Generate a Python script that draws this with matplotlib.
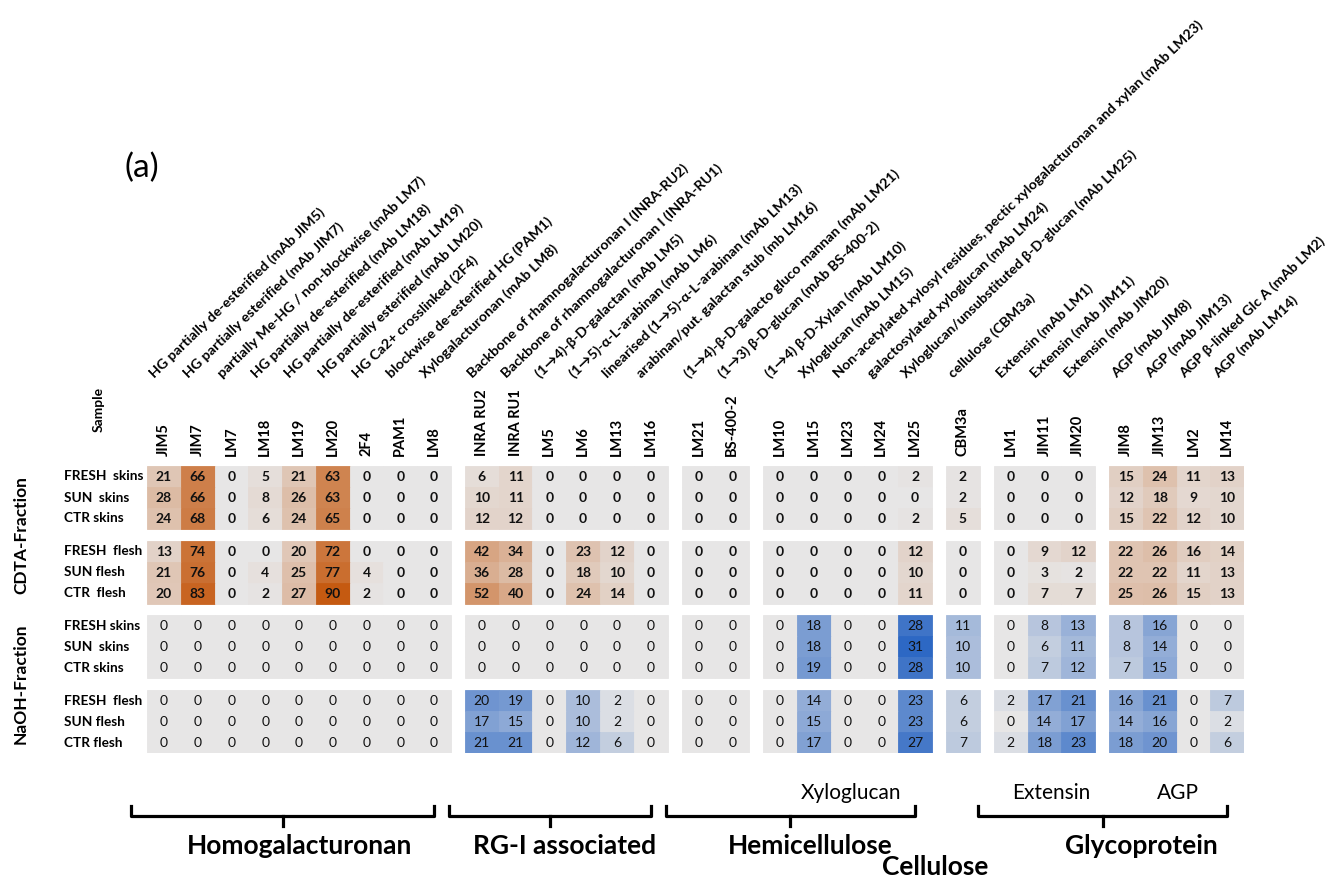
import numpy as np
import matplotlib
matplotlib.use("Agg")
import matplotlib.pyplot as plt
from matplotlib.colors import LinearSegmentedColormap, Normalize
from matplotlib.patches import Rectangle

plt.rcParams['font.family'] = ['Lato', 'DejaVu Sans']

# ------------------------------------------------------------------
# Data
# ------------------------------------------------------------------
antibodies = ["JIM5", "JIM7", "LM7", "LM18", "LM19", "LM20", "2F4", "PAM1", "LM8",
              "INRA RU2", "INRA RU1", "LM5", "LM6", "LM13", "LM16",
              "LM21", "BS-400-2",
              "LM10", "LM15", "LM23", "LM24", "LM25",
              "CBM3a",
              "LM1", "JIM11", "JIM20",
              "JIM8", "JIM13", "LM2", "LM14"]

descriptions = [
    "HG partially de-esterified (mAb JIM5)",
    "HG partially esterified (mAb JIM7)",
    "partially Me-HG / non-blockwise (mAb LM7)",
    "HG partially de-esterified (mAb LM18)",
    "HG partially de-esterified (mAb LM19)",
    "HG partially esterified (mAb LM20)",
    "HG Ca2+ crosslinked (2F4)",
    "blockwise de-esterified HG (PAM1)",
    "Xylogalacturonan (mAb LM8)",
    "Backbone of rhamnogalacturonan I (INRA-RU2)",
    "Backbone of rhamnogalacturonan I (INRA-RU1)",
    "(1\u21924)-\u03b2-D-galactan (mAb LM5)",
    "(1\u21925)-\u03b1-L-arabinan (mAb LM6)",
    "linearised (1\u21925)-\u03b1-L-arabinan (mAb LM13)",
    "arabinan/put. galactan stub (mb LM16)",
    "(1\u21924)-\u03b2-D-galacto gluco mannan (mAb LM21)",
    "(1\u21923) \u03b2-D-glucan (mAb BS-400-2)",
    "(1\u21924) \u03b2-D-Xylan (mAb LM10)",
    "Xyloglucan (mAb LM15)",
    "Non-acetylated xylosyl residues, pectic xylogalacturonan and xylan (mAb LM23)",
    "galactosylated xyloglucan (mAb LM24)",
    "Xyloglucan/unsubstituted \u03b2-D-glucan (mAb LM25)",
    "cellulose (CBM3a)",
    "Extensin (mAb LM1)",
    "Extensin (mAb JIM11)",
    "Extensin (mAb JIM20)",
    "AGP (mAb JIM8)",
    "AGP (mAb JIM13)",
    "AGP \u03b2-linked Glc A (mAb LM2)",
    "AGP (mAb LM14)",
]

group_sizes = [9, 6, 2, 5, 1, 3, 4]

cdta_samples = ["FRESH  skins", "SUN  skins", "CTR skins",
                "FRESH  flesh", "SUN flesh", "CTR  flesh"]
naoh_samples = ["FRESH skins", "SUN  skins", "CTR skins",
                "FRESH  flesh", "SUN flesh", "CTR flesh"]

cdta = np.array([
    [21, 66, 0, 5, 21, 63, 0, 0, 0,   6, 11, 0, 0, 0, 0,    0, 0,  0, 0, 0, 0, 2,   2,  0, 0, 0,   15, 24, 11, 13],
    [28, 66, 0, 8, 26, 63, 0, 0, 0,  10, 11, 0, 0, 0, 0,    0, 0,  0, 0, 0, 0, 0,   2,  0, 0, 0,   12, 18, 9, 10],
    [24, 68, 0, 6, 24, 65, 0, 0, 0,  12, 12, 0, 0, 0, 0,    0, 0,  0, 0, 0, 0, 2,   5,  0, 0, 0,   15, 22, 12, 10],
    [13, 74, 0, 0, 20, 72, 0, 0, 0,  42, 34, 0, 23, 12, 0,  0, 0,  0, 0, 0, 0, 12,  0,  0, 9, 12,  22, 26, 16, 14],
    [21, 76, 0, 4, 25, 77, 4, 0, 0,  36, 28, 0, 18, 10, 0,  0, 0,  0, 0, 0, 0, 10,  0,  0, 3, 2,   22, 22, 11, 13],
    [20, 83, 0, 2, 27, 90, 2, 0, 0,  52, 40, 0, 24, 14, 0,  0, 0,  0, 0, 0, 0, 11,  0,  0, 7, 7,   25, 26, 15, 13],
])

naoh = np.array([
    [0, 0, 0, 0, 0, 0, 0, 0, 0,   0, 0, 0, 0, 0, 0,     0, 0,  0, 18, 0, 0, 28,  11,  0, 8, 13,   8, 16, 0, 0],
    [0, 0, 0, 0, 0, 0, 0, 0, 0,   0, 0, 0, 0, 0, 0,     0, 0,  0, 18, 0, 0, 31,  10,  0, 6, 11,   8, 14, 0, 0],
    [0, 0, 0, 0, 0, 0, 0, 0, 0,   0, 0, 0, 0, 0, 0,     0, 0,  0, 19, 0, 0, 28,  10,  0, 7, 12,   7, 15, 0, 0],
    [0, 0, 0, 0, 0, 0, 0, 0, 0,  20, 19, 0, 10, 2, 0,   0, 0,  0, 14, 0, 0, 23,  6,   2, 17, 21, 16, 21, 0, 7],
    [0, 0, 0, 0, 0, 0, 0, 0, 0,  17, 15, 0, 10, 2, 0,   0, 0,  0, 15, 0, 0, 23,  6,   0, 14, 17, 14, 16, 0, 2],
    [0, 0, 0, 0, 0, 0, 0, 0, 0,  21, 21, 0, 12, 6, 0,   0, 0,  0, 17, 0, 0, 27,  7,   2, 18, 23, 18, 20, 0, 6],
])

# bracket groups: (name, first column, last column)
brackets = [("Homogalacturonan", 0, 8), ("RG-I associated", 9, 14),
            ("Hemicellulose", 15, 21), ("Glycoprotein", 23, 29)]

# ------------------------------------------------------------------
# Layout (pixels of the 1343x881 canvas)
# ------------------------------------------------------------------
W, H = 1343, 881
cell_w, cell_h = 33.77, 21.0
col_gap, row_gap = 0.415, 0.557
x0_px, y0_px = 147, 466

col_group = np.repeat(np.arange(len(group_sizes)), group_sizes)
col_left = np.arange(len(antibodies)) + col_gap * col_group
row_top = np.arange(12) + row_gap * (np.arange(12) // 3)
xmax = col_left[-1] + 1
ymax = row_top[-1] + 1

fig = plt.figure(figsize=(W / 100, H / 100), dpi=100)
ax = fig.add_axes([x0_px / W, 1 - (y0_px + ymax * cell_h) / H,
                   xmax * cell_w / W, ymax * cell_h / H])
ax.set_xlim(0, xmax)
ax.set_ylim(ymax, 0)
ax.axis("off")


def px(x):
    return (x - x0_px) / cell_w


def py(y):
    return (y - y0_px) / cell_h


gray = "#E7E6E6"
orange_map = LinearSegmentedColormap.from_list("or", [gray, "#C55A11"])
blue_map = LinearSegmentedColormap.from_list("bl", [gray, "#2D68C4"])

# ------------------------------------------------------------------
# Heatmap cells
# ------------------------------------------------------------------
for frac, (vals, cmap, weight) in enumerate([(cdta, orange_map, "bold"),
                                             (naoh, blue_map, "normal")]):
    norm = Normalize(0, vals.max())
    for r in range(vals.shape[0]):
        y = row_top[frac * 6 + r]
        for c in range(vals.shape[1]):
            v = vals[r, c]
            col = cmap(norm(v))
            ax.add_patch(Rectangle((col_left[c], y), 1, 1, facecolor=col,
                                   edgecolor=col, lw=0.6))
            ax.text(col_left[c] + 0.5, y + 0.52, str(v), ha="center",
                    va="center", fontsize=10, fontweight=weight,
                    color="#111111")

# row labels
for frac, names in enumerate([cdta_samples, naoh_samples]):
    for r, name in enumerate(names):
        ax.text(px(64), row_top[frac * 6 + r] + 0.5, name, ha="left",
                va="center", fontsize=9.8, fontweight="bold", clip_on=False)

ax.text(px(21), py(535), "CDTA-Fraction", rotation=90, ha="center",
        va="center", fontsize=12.5, fontweight="bold", clip_on=False)
ax.text(px(21), py(684), "NaOH-Fraction", rotation=90, ha="center",
        va="center", fontsize=12.5, fontweight="bold", clip_on=False)

# ------------------------------------------------------------------
# Column labels
# ------------------------------------------------------------------
ax.text(px(99), py(409), "Sample", rotation=90, ha="center", va="center",
        fontsize=10, fontweight="bold", clip_on=False)
for c, name in enumerate(antibodies):
    ax.text(col_left[c] + 0.5, py(456), name, rotation=90, ha="center",
            va="bottom", fontsize=10.5, fontweight="bold", clip_on=False)
for c, name in enumerate(descriptions):
    ax.text(col_left[c] + 0.5 - 9 / cell_w, py(378), name, rotation=44,
            rotation_mode="anchor", ha="left", va="baseline", fontsize=10.3,
            fontweight="bold", clip_on=False)

fig.text(142 / W, 1 - 168 / H, "(a)", ha="center", va="center", fontsize=24)

# ------------------------------------------------------------------
# Brackets and group names
# ------------------------------------------------------------------
for name, a, b in brackets:
    xl = col_left[a] - 0.47
    xr = col_left[b] + 1 - 0.5
    xc = (xl + xr) / 2
    ax.plot([xl, xl, xr, xr], [py(806), py(816), py(816), py(806)],
            color="black", lw=2.3, solid_joinstyle="round", clip_on=False)
    ax.plot([xc, xc], [py(816), py(826)], color="black", lw=2.3,
            clip_on=False)

group_text = [("Homogalacturonan", 300, 846), ("RG-I associated", 565, 846),
              ("Hemicellulose", 810, 846), ("Cellulose", 935, 867),
              ("Glycoprotein", 1141, 846)]
for name, x, y in group_text:
    ax.text(px(x), py(y), name, ha="center", va="center", fontsize=19,
            fontweight="bold", clip_on=False)

sub_text = [("Xyloglucan", 851, 793), ("Extensin", 1051, 793), ("AGP", 1178, 793)]
for name, x, y in sub_text:
    ax.text(px(x), py(y), name, ha="center", va="center", fontsize=15,
            clip_on=False)

fig.savefig("out.png", dpi=100)
